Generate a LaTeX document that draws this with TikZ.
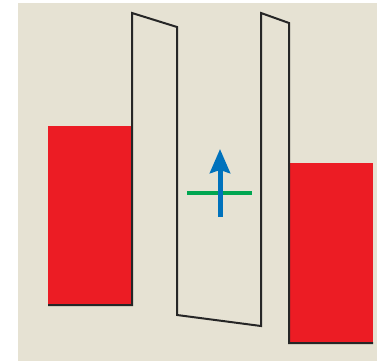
\documentclass[tikz,border=0pt]{standalone}
\usetikzlibrary{arrows.meta}
\definecolor{bg}{HTML}{E6E2D3}
\definecolor{redfill}{HTML}{EC1C24}
\definecolor{grn}{HTML}{00A651}
\definecolor{blu}{HTML}{0072BC}
\tikzset{
  electrode/.style={fill=redfill, draw=none},
  barrier/.style={draw=black!85, line width=2pt, line join=miter},
}
\begin{document}
\begin{tikzpicture}[x=1pt,y=-1pt]
\useasboundingbox (0,0) rectangle (377,361);
\fill[white] (0,0) rectangle (377,361);
\fill[bg] (18,3) rectangle (377,361);
% electrodes
\fill[electrode] (48,126) rectangle (132,305);
\fill[electrode] (289,163) rectangle (373,343);
% barrier profile
\draw[barrier] (48,305) -- (132,305) -- (132,13) -- (177,27) -- (177,315) -- (261,326) -- (261,13) -- (289,23) -- (289,343) -- (373,343);
% level and spin
\draw[grn, line width=4pt] (187,193) -- (252,193);
\draw[blu, line width=5pt, -{Stealth[length=24pt,width=20pt,inset=3pt]}] (220,217) -- (220,149);
\end{tikzpicture}
\end{document}
